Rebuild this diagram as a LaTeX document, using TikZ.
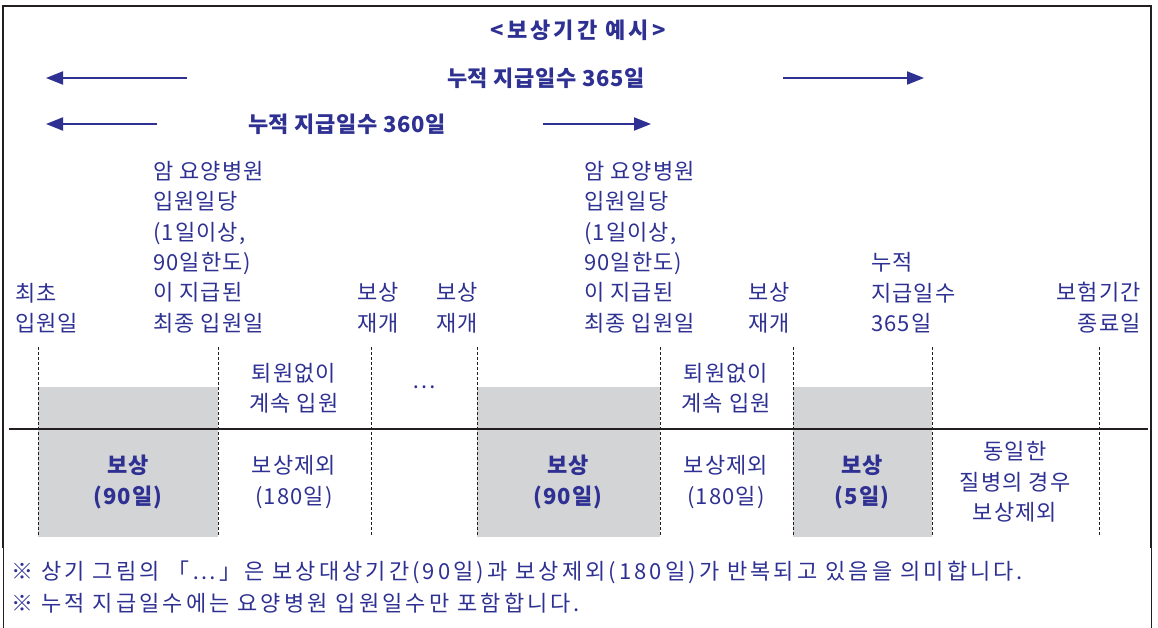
\documentclass[tikz,border=0pt]{standalone}
\usepackage{fontspec}
\setmainfont{Noto Sans CJK KR}
\usetikzlibrary{arrows.meta}
\definecolor{labelblue}{RGB}{46,49,146}
\definecolor{paygray}{RGB}{211,212,214}
\definecolor{inkline}{RGB}{35,31,32}
\newcommand{\bodyfont}{\fontsize{22}{30.3}\selectfont\addfontfeature{LetterSpace=5}}
\tikzstyle{toptext}=[text=labelblue,font=\bodyfont,inner sep=0pt,align=left,anchor=south west]
\tikzstyle{celltext}=[text=labelblue,font=\bodyfont,inner sep=0pt,align=center]
\tikzstyle{paidtext}=[celltext,font=\bodyfont\bfseries]
\tikzstyle{spantext}=[text=labelblue,font=\fontsize{22}{24}\selectfont\bfseries\addfontfeature{LetterSpace=3},inner sep=0pt]
\tikzstyle{remark}=[text=labelblue,font=\fontsize{22}{24}\selectfont\addfontfeature{LetterSpace=14},inner sep=0pt,anchor=west]
\tikzstyle{spanarrow}=[draw=labelblue,line width=2pt,-{Triangle[length=17pt,width=13pt]}]
\tikzstyle{boundary}=[draw=inkline,line width=0.8pt,dash pattern=on 3pt off 2pt]
\tikzstyle{paid}=[fill=paygray]
\begin{document}
\begin{tikzpicture}[x=1pt,y=-1pt]

    \useasboundingbox (0,0) rectangle (1158,628);

    % frame
    \draw[inkline,line width=2.5pt] (3,548) -- (3,6) -- (1151,6) -- (1151,548);
    \draw[inkline,line width=1pt] (3,548) -- (3,628) (1151,548) -- (1151,628);

    \node[spantext,font=\fontsize{22}{24}\selectfont\bfseries\addfontfeature{LetterSpace=14}] (title) at (578,30) {<보상기간 예시>};

    % cumulative days
    \node[spantext] (span365) at (546,78) {누적 지급일수 365일};
    \node[spantext] (span360) at (347,124) {누적 지급일수 360일};

    \foreach \x/\y/\name in {187/78/a1, 46/78/a1tip, 783/78/a2, 924/78/a2tip,
                             157/124/b1, 46/124/b1tip, 543/124/b2, 651/124/b2tip}
        \coordinate (\name) at (\x,\y);

    \foreach \source/\dest in {a1/a1tip, a2/a2tip, b1/b1tip, b2/b2tip}
        \draw[spanarrow] (\source) -- (\dest);

    % time line labels
    \foreach \x/\name/\txt in {15/first/{최초\\입원일},
                               153/last1/{암 요양병원\\입원일당\\(1일이상,\\90일한도)\\이 지급된\\최종 입원일},
                               357/resume1/{보상\\재개}, 436/resume2/{보상\\재개},
                               584/last2/{암 요양병원\\입원일당\\(1일이상,\\90일한도)\\이 지급된\\최종 입원일},
                               748/resume3/{보상\\재개}, 871/total/{누적\\지급일수\\365일}}
        \node[toptext] (\name) at (\x,333) {\txt};
    \node[toptext,anchor=south east,align=right] (expiry) at (1141,333) {보험기간\\종료일};

    % periods
    \foreach \a/\b in {38/218, 477/660, 793/932}
        \fill[paid] (\a,387) rectangle (\b,537);
    \draw[inkline,line width=1.2pt] (9,429) -- (1148,429);
    \foreach \x in {38,218,371,477,660,793,932,1099}
        \draw[boundary] (\x,347) -- (\x,536);

    \foreach \x/\y/\name/\txt in {294/388/stay1/{퇴원없이\\계속 입원}, 424/387/dots/{…},
                                  726/388/stay2/{퇴원없이\\계속 입원},
                                  294/482/excl1/{보상제외\\(180일)}, 726/482/excl2/{보상제외\\(180일)},
                                  1015/482/same/{동일한\\질병의 경우\\보상제외}}
        \node[celltext] (\name) at (\x,\y) {\txt};

    \foreach \x/\y/\name/\txt in {128/482/paid1/{보상\\(90일)}, 568/482/paid2/{보상\\(90일)},
                                  862/482/paid3/{보상\\(5일)}}
        \node[paidtext] (\name) at (\x,\y) {\txt};

    \node[remark] (note1) at (11,572) {※ 상기 그림의 「…」은 보상대상기간(90일)과 보상제외(180일)가 반복되고 있음을 의미합니다.};
    \node[remark] (note2) at (11,603) {※ 누적 지급일수에는 요양병원 입원일수만 포함합니다.};

\end{tikzpicture}
\end{document}
